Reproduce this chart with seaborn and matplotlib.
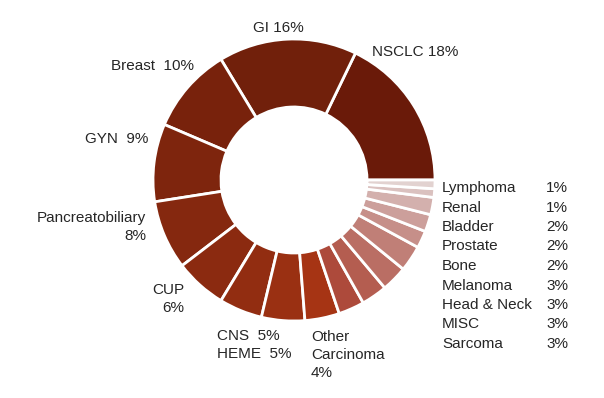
import matplotlib
matplotlib.use("Agg")
import matplotlib.pyplot as plt
import seaborn as sns

sns.set_theme(style="white")
plt.rcParams['font.family'] = ['Liberation Sans', 'DejaVu Sans']

# =========================
# Datos (sentido antihorario desde las 3 en punto)
# =========================
tumores = ["NSCLC", "GI", "Breast", "GYN", "Pancreatobiliary", "CUP", "CNS", "HEME",
           "Other Carcinoma", "Sarcoma", "MISC", "Head & Neck", "Melanoma", "Bone",
           "Prostate", "Bladder", "Renal", "Lymphoma"]
porcentajes = [18, 16, 10, 9, 8, 6, 5, 5, 4, 3, 3, 3, 3, 2, 2, 2, 1, 1]
colores = ["#6a1a09", "#71200b", "#78220c", "#7e250d", "#85280f", "#8b2a10", "#922d11",
           "#9a3012", "#a63414", "#ad4a3b", "#b45d50", "#ba6e64", "#c07f77", "#c68f89",
           "#cc9f9b", "#d3b0ad", "#dac1bf", "#e2d2d0"]

# Lista de la derecha (orden de arriba a abajo)
lista_der = ["Lymphoma", "Renal", "Bladder", "Prostate", "Bone", "Melanoma",
             "Head & Neck", "MISC", "Sarcoma"]

W, H = 604, 398
fig = plt.figure(figsize=(W / 100, H / 100), dpi=100)
ax = fig.add_axes([0, 0, 1, 1])
ax.axis("off")

# =========================
# Donut
# =========================
ax.pie(porcentajes, colors=colores, startangle=0, counterclock=True,
       center=(294, H - 180), radius=141,
       wedgeprops=dict(width=68, edgecolor="white", linewidth=2))
ax.set_xlim(0, W)
ax.set_ylim(0, H)
ax.set_aspect("auto")

pct = dict(zip(tumores, porcentajes))
txt = dict(fontsize=11, color="#262626")

def y(py):
    return H - py

ax.text(278, y(28), f"GI {pct['GI']}%", ha="center", va="center", **txt)
ax.text(372, y(52), f"NSCLC {pct['NSCLC']}%", ha="left", va="center", **txt)
ax.text(194, y(66), f"Breast  {pct['Breast']}%", ha="right", va="center", **txt)
ax.text(148, y(139), f"GYN  {pct['GYN']}%", ha="right", va="center", **txt)
ax.text(146, y(227), f"Pancreatobiliary\n{pct['Pancreatobiliary']}%", ha="right",
        va="center", multialignment="right", linespacing=1.35, **txt)
ax.text(184, y(299), f"CUP\n{pct['CUP']}%", ha="right", va="center",
        multialignment="right", linespacing=1.35, **txt)
ax.text(217, y(345), f"CNS  {pct['CNS']}%\nHEME  {pct['HEME']}%", ha="left",
        va="center", linespacing=1.35, **txt)
ax.text(311, y(355), f"Other\nCarcinoma\n{pct['Other Carcinoma']}%", ha="left",
        va="center", linespacing=1.35, **txt)

for i, nombre in enumerate(lista_der):
    yy = y(188 + i * 19.5)
    ax.text(442, yy, nombre, ha="left", va="center", **txt)
    ax.text(568, yy, f"{pct[nombre]}%", ha="right", va="center", **txt)

fig.savefig("out.png", dpi=100)
